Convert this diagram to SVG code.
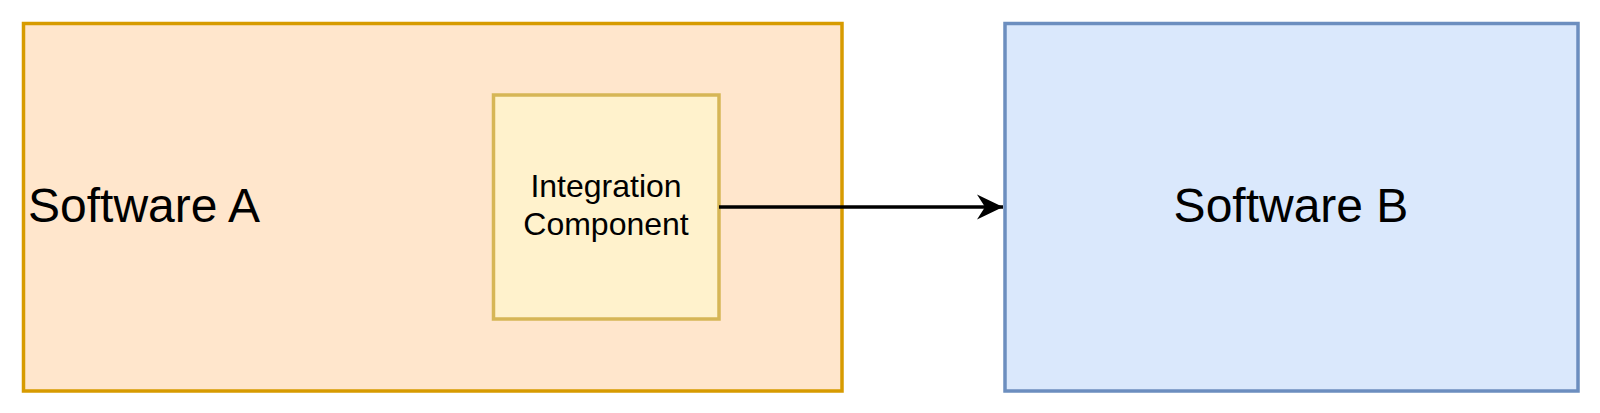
<svg xmlns="http://www.w3.org/2000/svg" width="1600" height="413" viewBox="0 0 1600 413">
<style>
text{font-family:"Liberation Sans",Arial,sans-serif;fill:#000}
.big{font-size:48px}
.small{font-size:32px;text-anchor:middle}
</style>
<defs>
<marker id="ah" markerUnits="userSpaceOnUse" markerWidth="30" markerHeight="28" refX="26" refY="14" orient="auto">
<path d="M0,1.5 L26,14 L0,26.5 L8,14 Z" fill="#000"/>
</marker>
</defs>
<rect width="1600" height="413" fill="#fff"/>
<g id="software-a">
<rect x="23.5" y="23.5" width="818.5" height="367.5" fill="#ffe6cc" stroke="#d79b00" stroke-width="3.5"/>
<text class="big" x="28" y="221.5">Software A</text>
</g>
<g id="integration-component">
<rect x="493.5" y="95" width="225.5" height="224" fill="#fff2cc" stroke="#d6b656" stroke-width="3.5"/>
<text class="small" x="606" y="196.5">Integration</text>
<text class="small" x="606" y="235">Component</text>
</g>
<g id="software-b">
<rect x="1005" y="23.5" width="573" height="367.5" fill="#dae8fc" stroke="#6c8ebf" stroke-width="3.5"/>
<text class="big" x="1291" y="221.5" text-anchor="middle">Software B</text>
</g>
<g id="connectors">
<line x1="719" y1="207" x2="1003" y2="207" stroke="#000" stroke-width="3.5" marker-end="url(#ah)"/>
</g>
</svg>
